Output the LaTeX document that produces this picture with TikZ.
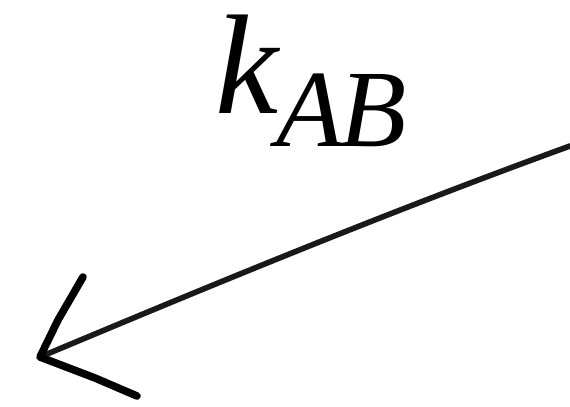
\documentclass[tikz,border=0pt]{standalone}
\usepackage{fontspec}
\setmainfont{Liberation Serif}
\tikzset{stroke/.style={line width=2.8pt, line cap=round, line join=round, draw=black!90},
  barb/.style={line width=3.8pt, line cap=round, line join=round, draw=black}}
\begin{document}
\begin{tikzpicture}[x=0.5pt,y=-0.5pt]
\useasboundingbox (0,0) rectangle (570,407);
\node[anchor=base west, inner sep=0pt] (lab) at (215,113)
  {\fontsize{71}{74}\selectfont\itshape k\kern-1pt\raisebox{-17pt}{\fontsize{55}{58}\selectfont\itshape A\kern-2pt B}};
\coordinate (start) at (570,146);
\coordinate (tip) at (40,357);
\coordinate (b1) at (83,277);
\coordinate (b2) at (137,396);
\draw[stroke] (start) .. controls (380,215) and (200,290) .. (tip);
\draw[barb] (b1) -- (58,320) -- (tip) -- (95,378) -- (b2);
\end{tikzpicture}
\end{document}
